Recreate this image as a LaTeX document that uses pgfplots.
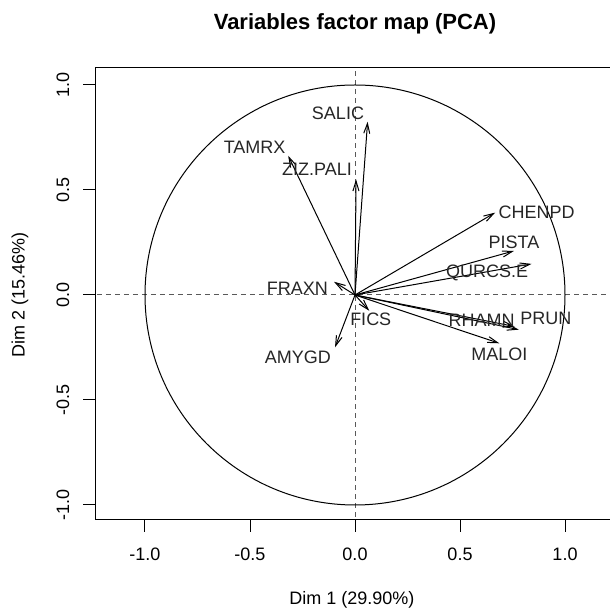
\documentclass[border=0pt]{standalone}
\usepackage{fontspec}
\setmainfont{Liberation Sans}
\usepackage{pgfplots}
\usepackage{pgfplotstable}
\pgfplotsset{compat=1.18}
\usetikzlibrary{arrows.meta}

\pgfplotstableread{
name x y lx ly
SALIC 0.060 0.825 -0.081 0.867
TAMRX -0.318 0.663 -0.478 0.705
ZIZ.PALI 0.005 0.551 -0.181 0.598
CHENPD 0.667 0.392 0.865 0.392
PISTA 0.757 0.210 0.757 0.252
QURCS.E 0.841 0.148 0.629 0.103
RHAMN 0.760 -0.150 0.603 -0.119
PRUN 0.780 -0.165 0.909 -0.113
MALOI 0.687 -0.230 0.687 -0.281
FICS 0.068 -0.075 0.075 -0.118
FRAXN -0.100 0.063 -0.274 0.032
AMYGD -0.095 -0.249 -0.272 -0.295
}\vars

\begin{document}
\fontsize{9pt}{11pt}\selectfont
\begin{tikzpicture}
\useasboundingbox (-177.5pt,-157.5pt) rectangle (127.5pt,147.5pt);
\clip (-177.5pt,-157.5pt) rectangle (127.5pt,147.5pt);
\begin{axis}[
  anchor=origin, at={(0pt,0pt)},
  x=105pt, y=105pt,
  xmin=-1.238, xmax=1.222, ymin=-1.071, ymax=1.081,
  axis line style={line width=0.5pt, black},
  tick align=outside, tick pos=left,
  major tick length=6pt,
  tick style={black, line width=0.5pt},
  xtick={-1,-0.5,0,0.5,1}, xticklabels={-1.0,-0.5,0.0,0.5,1.0},
  ytick={-1,-0.5,0,0.5,1}, yticklabels={-1.0,-0.5,0.0,0.5,1.0},
  xticklabel style={anchor=center, yshift=-11pt, inner sep=0pt, font=\fontsize{9pt}{11pt}\selectfont},
  yticklabel style={rotate=90, anchor=center, yshift=10pt, inner sep=0pt, font=\fontsize{9pt}{11pt}\selectfont},
]
\addplot[gray!70!black, dash pattern=on 2.5pt off 2pt, line width=0.5pt, forget plot] coordinates {(-2,0) (2,0)};
\addplot[gray!70!black, dash pattern=on 2.5pt off 2pt, line width=0.5pt, forget plot] coordinates {(0,-2) (0,2)};
\draw[line width=0.5pt, black] (axis cs:0,0) circle [radius=1];
\addplot[black, line width=0.5pt, -{Straight Barb[length=5pt,width=3pt]},
  quiver={u=\thisrow{x}, v=\thisrow{y}}] table[x expr=0, y expr=0] {\vars};
\addplot[only marks, mark=none, nodes near coords, point meta=explicit symbolic,
  every node near coord/.append style={anchor=center, inner sep=0pt, text=black!85, font=\fontsize{9pt}{11pt}\selectfont}]
  table[x=lx, y=ly, meta=name] {\vars};
\end{axis}
\node[font=\bfseries\fontsize{11pt}{13pt}\selectfont] at (0pt,135.5pt) {Variables factor map (PCA)};
\node at (-1.5pt,-152.5pt) {Dim 1 (29.90\%)};
\node[rotate=90] at (-167.5pt,0pt) {Dim 2 (15.46\%)};
\end{tikzpicture}
\end{document}
